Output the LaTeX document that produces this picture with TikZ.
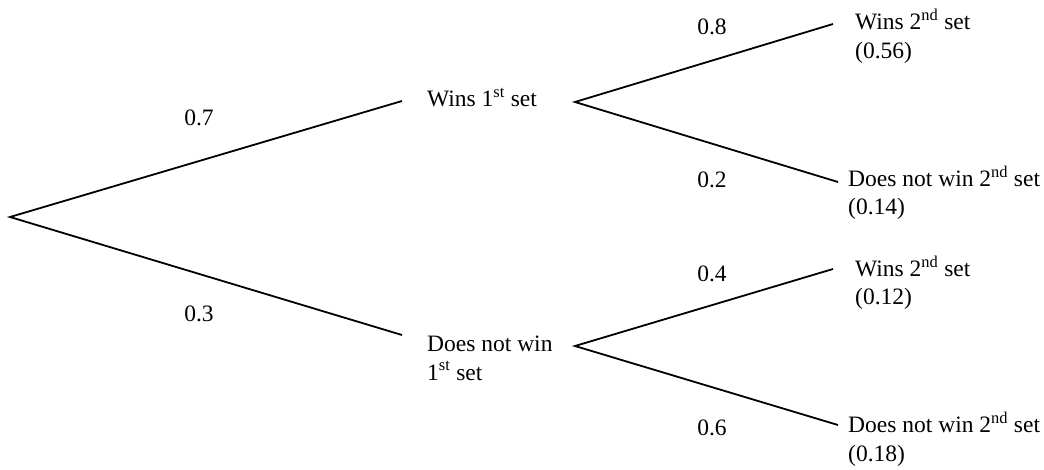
\documentclass[tikz,border=0pt]{standalone}
\usepackage{fontspec}
\setmainfont{Liberation Serif}

\begin{document}
\begin{tikzpicture}[x=1pt,y=-1pt,
  branch/.style={line width=1.8pt},
  prob/.style={anchor=base,inner sep=0pt,font=\fontsize{23.5}{28.5}\selectfont},
  outcome/.style={anchor=base west,inner sep=0pt,align=left,font=\fontsize{23.5}{28.5}\selectfont}]
\useasboundingbox (0,0) rectangle (1044,470);

% first set
\coordinate (root) at (10,217);
\coordinate (w1in) at (402,101);
\coordinate (d1in) at (402,335);
\node[outcome] (w1) at (427,107) {Wins 1\textsuperscript{st} set};
\node[outcome] (d1) at (427,380) {Does not win\\1\textsuperscript{st} set};
\coordinate (f1) at (575,102);
\coordinate (f2) at (575,346);

% second set (base anchor sits on the last line)
\coordinate (ww) at (833,24);
\coordinate (wd) at (838,182);
\coordinate (dw) at (833,269);
\coordinate (dd) at (838,425);
\node[outcome] (wwtext) at (855,58.5) {Wins 2\textsuperscript{nd} set\\(0.56)};
\node[outcome] (wdtext) at (848,215) {Does not win 2\textsuperscript{nd} set\\(0.14)};
\node[outcome] (dwtext) at (855,305) {Wins 2\textsuperscript{nd} set\\(0.12)};
\node[outcome] (ddtext) at (848,461) {Does not win 2\textsuperscript{nd} set\\(0.18)};

\draw[branch] (w1in) -- (root) -- (d1in);
\draw[branch] (ww) -- (f1) -- (wd);
\draw[branch] (dw) -- (f2) -- (dd);

% probabilities
\node[prob] (p7) at (199,126) {0.7};
\node[prob] (p3) at (199,322) {0.3};
\node[prob] (p8) at (712,35) {0.8};
\node[prob] (p2) at (712,188) {0.2};
\node[prob] (p4) at (712,282) {0.4};
\node[prob] (p6) at (712,435) {0.6};
\end{tikzpicture}
\end{document}
